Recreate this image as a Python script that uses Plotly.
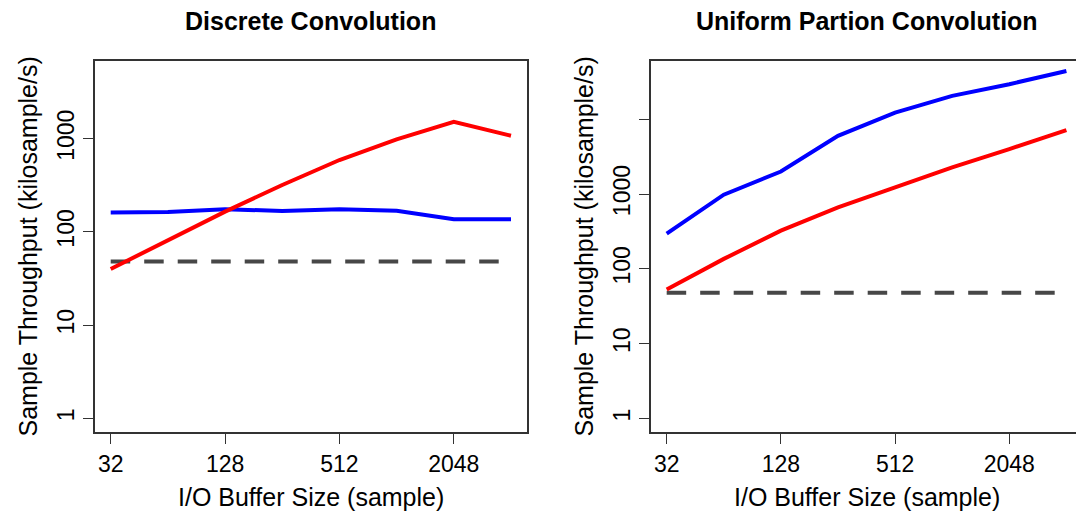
import math
import plotly.graph_objects as go

# I/O buffer sizes (samples)
buffer_sizes = [32, 64, 128, 256, 512, 1024, 2048, 4096]

# Discrete convolution throughput (kilosample/s)
discrete_red = [40, 82, 165, 319, 591, 986, 1520, 1077]
discrete_blue = [162, 164, 175, 168, 175, 169, 137, 137]

# Uniform partitioned convolution throughput (kilosample/s)
partition_red = [53, 136, 324, 663, 1225, 2264, 3980, 7130]
partition_blue = [296, 979, 2000, 5990, 12240, 20460, 29300, 44000]

# Real-time requirement (48 kHz)
realtime = [48] * len(buffer_sizes)

x_ticks = [32, 128, 512, 2048]
x_tick_text = ["32", "128", "512", "2048"]
y_ticks_left = [1, 10, 100, 1000]
y_ticks_right = [1, 10, 100, 1000, 10000]
y_text_left = ["1", "10", "100", "1000"]
y_text_right = ["1", "10", "100", "1000", ""]

W, H = 1076, 516
FONT = "Liberation Sans, Arial, Helvetica, sans-serif"
AXIS_COLOR = "#333333"
LOG2 = math.log10(2)

fig = go.Figure()


def add_panel(xref, yref, red, blue):
    fig.add_trace(go.Scatter(x=buffer_sizes, y=realtime, mode="lines",
                             line=dict(color="#474747", width=4, dash="19.5px,14px"),
                             xaxis=xref, yaxis=yref, showlegend=False))
    fig.add_trace(go.Scatter(x=buffer_sizes, y=blue, mode="lines",
                             line=dict(color="#0000FF", width=4),
                             xaxis=xref, yaxis=yref, showlegend=False))
    fig.add_trace(go.Scatter(x=buffer_sizes, y=red, mode="lines",
                             line=dict(color="#FF0000", width=4),
                             xaxis=xref, yaxis=yref, showlegend=False))


add_panel("x", "y", discrete_red, discrete_blue)
add_panel("x2", "y2", partition_red, partition_blue)

tick_font = dict(family=FONT, size=23, color="#000000")
y_dom = [(H - 432.3) / H, (H - 60.7) / H]

common_x = dict(type="log", tickmode="array", tickvals=x_ticks, ticktext=x_tick_text,
                ticks="outside", ticklen=10, tickwidth=1.3, tickcolor=AXIS_COLOR,
                showline=True, linecolor=AXIS_COLOR, linewidth=1.5, mirror=True,
                showgrid=False, zeroline=False, tickfont=tick_font,
                fixedrange=True)
common_y = dict(type="log", tickmode="array", ticks="outside", ticklen=10,
                tickwidth=1.3, tickcolor=AXIS_COLOR, showline=True,
                linecolor=AXIS_COLOR, linewidth=1.5, showgrid=False,
                zeroline=False, tickfont=tick_font, tickangle=-90,
                domain=y_dom, fixedrange=True)

fig.update_layout(
    width=W, height=H,
    margin=dict(l=0, r=0, t=0, b=0),
    paper_bgcolor="white", plot_bgcolor="white",
    xaxis=dict(common_x, domain=[94.7 / W, 527.0 / W],
               range=[4.72 * LOG2, 12.28 * LOG2], anchor="y"),
    yaxis=dict(common_y, tickvals=y_ticks_left, ticktext=y_text_left,
               range=[-0.150, 3.837], mirror=True, anchor="x"),
    xaxis2=dict(common_x, domain=[650.7 / W, 1.0],
                range=[4.72 * LOG2, 12.168 * LOG2], anchor="y2"),
    yaxis2=dict(common_y, tickvals=y_ticks_right, ticktext=y_text_right,
                range=[-0.183, 4.781], mirror=False, anchor="x2"),
)

label_font = dict(family=FONT, size=25, color="#000000")
title_font = dict(family=FONT, size=25, color="#000000")


def px_x(v):
    return v / W


def px_y(v):
    return 1 - v / H


annotations = [
    # panel titles
    dict(text="<b>Discrete Convolution</b>", x=px_x(310.9), y=px_y(21),
         font=title_font),
    dict(text="<b>Uniform Partion Convolution</b>", x=px_x(866.6), y=px_y(21),
         font=title_font),
    # x axis titles
    dict(text="I/O Buffer Size (sample)", x=px_x(310.9), y=px_y(497),
         font=label_font),
    dict(text="I/O Buffer Size (sample)", x=px_x(866.6), y=px_y(497),
         font=label_font),
    # y axis titles
    dict(text="Sample Throughput (kilosample/s)", x=px_x(28), y=px_y(246.5),
         font=label_font, textangle=-90),
    dict(text="Sample Throughput (kilosample/s)", x=px_x(584), y=px_y(246.5),
         font=label_font, textangle=-90),
]
for a in annotations:
    a.update(xref="paper", yref="paper", showarrow=False,
             xanchor="center", yanchor="middle")
fig.update_layout(annotations=annotations)

fig.write_html("out.html")
